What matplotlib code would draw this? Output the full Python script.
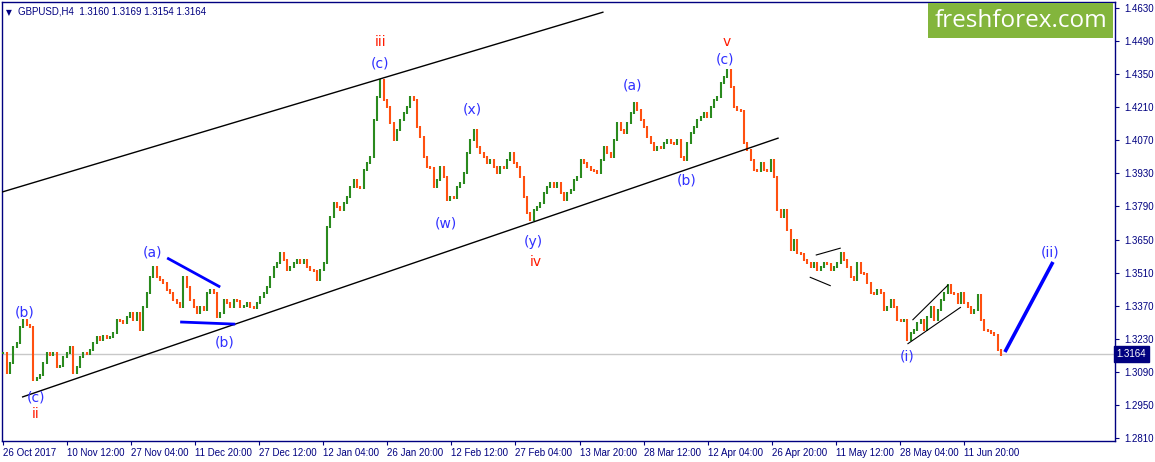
import numpy as np
import matplotlib.pyplot as plt

# GBPUSD H4 closes (one value per ~3.3 H4 bars)
closes = [
    1.3170, 1.3085, 1.3127, 1.3195, 1.3212, 1.3280, 1.3309, 1.3288, 1.3280, 1.3055,
    1.3064, 1.3077, 1.3127, 1.3170, 1.3161, 1.3170, 1.3110, 1.3114, 1.3153, 1.3170,
    1.3195, 1.3085, 1.3110, 1.3153, 1.3170, 1.3166, 1.3182, 1.3212, 1.3237, 1.3225,
    1.3241, 1.3232, 1.3237, 1.3254, 1.3309, 1.3305, 1.3297, 1.3322, 1.3339, 1.3309,
    1.3339, 1.3267, 1.3364, 1.3424, 1.3491, 1.3534, 1.3491, 1.3479, 1.3466, 1.3436,
    1.3424, 1.3394, 1.3381, 1.3364, 1.3491, 1.3449, 1.3394, 1.3364, 1.3339, 1.3364,
    # Dec - mid Jan
    1.3352, 1.3424, 1.3436, 1.3424, 1.3322, 1.3339, 1.3394, 1.3381, 1.3364, 1.3394,
    1.3390, 1.3364, 1.3368, 1.3381, 1.3364, 1.3360, 1.3381, 1.3407, 1.3424, 1.3449,
    1.3491, 1.3534, 1.3551, 1.3593, 1.3563, 1.3521, 1.3534, 1.3551, 1.3563, 1.3551,
    1.3563, 1.3534, 1.3521, 1.3517, 1.3479, 1.3521, 1.3551, 1.3703, 1.3745, 1.3805,
    1.3788, 1.3775, 1.3805, 1.3830, 1.3872, 1.3902, 1.3872, 1.3868, 1.3944, 1.3974,
    1.3999, 1.4156, 1.4253, 1.4325, 1.4241, 1.4211, 1.4143,
    # late Jan - mid Mar
    1.4071, 1.4114, 1.4156, 1.4186, 1.4211, 1.4253, 1.4241, 1.4126, 1.4084, 1.3999,
    1.3957, 1.3953, 1.3872, 1.3902, 1.3957, 1.3915, 1.3817, 1.3830, 1.3826, 1.3872,
    1.3889, 1.3932, 1.4016, 1.4071, 1.4114, 1.4042, 1.4016, 1.3999, 1.3974, 1.3987,
    1.3957, 1.3932, 1.3957, 1.3953, 1.3987, 1.4016, 1.3974, 1.3957, 1.3915, 1.3830,
    1.3762, 1.3733, 1.3775, 1.3788, 1.3805, 1.3847, 1.3872, 1.3889, 1.3872, 1.3889,
    1.3847, 1.3817, 1.3847, 1.3860, 1.3902, 1.3915, 1.3987,
    # mid Mar - late Apr
    1.3974, 1.3957, 1.3944, 1.3940, 1.3932, 1.3987, 1.4042, 1.4016, 1.3999, 1.4071,
    1.4143, 1.4114, 1.4101, 1.4143, 1.4186, 1.4228, 1.4198, 1.4156, 1.4126, 1.4084,
    1.4059, 1.4029, 1.4042, 1.4038, 1.4059, 1.4071, 1.4059, 1.4055, 1.4071, 1.3999,
    1.3987, 1.4059, 1.4101, 1.4126, 1.4156, 1.4169, 1.4186, 1.4169, 1.4211, 1.4241,
    1.4253, 1.4313, 1.4338, 1.4368, 1.4296, 1.4211, 1.4198, 1.4194, 1.4059, 1.4029,
    1.3987, 1.3944, 1.3940, 1.3974, 1.3944, 1.3940, 1.3987,
    # late Apr - early Jun
    1.3915, 1.3775, 1.3745, 1.3775, 1.3690, 1.3606, 1.3648, 1.3593, 1.3589, 1.3563,
    1.3551, 1.3534, 1.3551, 1.3521, 1.3534, 1.3551, 1.3547, 1.3521, 1.3534, 1.3551,
    1.3593, 1.3563, 1.3534, 1.3491, 1.3479, 1.3551, 1.3508, 1.3504, 1.3466, 1.3424,
    1.3420, 1.3436, 1.3424, 1.3352, 1.3364, 1.3394, 1.3364, 1.3309, 1.3305, 1.3309,
    1.3225, 1.3254, 1.3267, 1.3297, 1.3309, 1.3267, 1.3322, 1.3364, 1.3309, 1.3352,
    1.3394, 1.3424, 1.3458, 1.3424, 1.3420, 1.3381, 1.3424,
    # June
    1.3381, 1.3364, 1.3339, 1.3352, 1.3415, 1.3309, 1.3267, 1.3263, 1.3254, 1.3246,
    1.3182, 1.3164,
]

last_price = 1.3164
header = "GBPUSD,H4  1.3160 1.3169 1.3154 1.3164"

date_labels = ["26 Oct 2017", "10 Nov 12:00", "27 Nov 04:00", "11 Dec 20:00",
               "27 Dec 12:00", "12 Jan 04:00", "26 Jan 20:00", "12 Feb 12:00",
               "27 Feb 04:00", "13 Mar 20:00", "28 Mar 12:00", "12 Apr 04:00",
               "26 Apr 20:00", "11 May 12:00", "28 May 04:00", "11 Jun 20:00"]
price_ticks = [1.2810, 1.2950, 1.3090, 1.3230, 1.3370, 1.3510, 1.3650,
               1.3790, 1.3930, 1.4070, 1.4210, 1.4350, 1.4490, 1.4630]

# trend lines: (bar, price) pairs
channel_upper = [(-0.4, 1.3851), (179.9, 1.4613)]
channel_lower = [(5.6, 1.2983), (232.4, 1.4080)]
tri_upper = [(49.1, 1.3572), (65.0, 1.3449)]
tri_lower = [(53.0, 1.3301), (69.5, 1.3292)]
flag1_upper = [(243.5, 1.3584), (251.0, 1.3614)]
flag1_lower = [(241.7, 1.3491), (248.0, 1.3454)]
flag2_upper = [(272.5, 1.3309), (283.2, 1.3458)]
flag2_lower = [(271.0, 1.3208), (287.0, 1.3364)]
proj_ii = [(300.2, 1.3174), (314.6, 1.3555)]

# wave labels: (text, bar, price, colour)
blue = "#3030ff"
red = "#ff1a00"
wave_labels = [
    ("(b)", 6.5, 1.3343, blue), ("(c)", 9.8, 1.2983, blue), ("ii", 9.8, 1.2911, red),
    ("(a)", 44.6, 1.3597, blue), ("(b)", 66.2, 1.3216, blue),
    ("iii", 113.0, 1.4486, red), ("(c)", 113.0, 1.4397, blue),
    ("(w)", 132.5, 1.3720, blue), ("(x)", 140.6, 1.4202, blue),
    ("(y)", 158.9, 1.3640, blue), ("iv", 159.5, 1.3555, red),
    ("(a)", 188.6, 1.4302, blue), ("(b)", 204.8, 1.3898, blue),
    ("v", 216.8, 1.4486, red), ("(c)", 216.3, 1.4414, blue),
    ("(i)", 270.8, 1.3157, blue), ("(ii)", 313.7, 1.3597, blue),
]

navy = "#000080"
up_col = "#2a8a1e"
down_col = "#ff5010"
small_font = "Liberation Sans"

fig = plt.figure(figsize=(11.55, 4.62), dpi=100)
ax = fig.add_axes([2 / 1155, 21 / 462, 1113 / 1155, 439 / 462])

c = np.array(closes)
x = np.arange(len(c))
o = np.r_[c[0], c[:-1]]
lo = np.minimum(o, c) - 0.0005
hi = np.maximum(o, c) + 0.0005
cols = [up_col if cc >= oo else down_col for oo, cc in zip(o, c)]

ax.axhline(last_price, color="#c8c8c8", lw=1, zorder=1)
ax.vlines(x, lo, hi, colors=cols, lw=1.5, zorder=3)

for pts, col, lw in [(channel_upper, "black", 1), (channel_lower, "black", 1),
                     (tri_upper, "#0000ff", 2), (tri_lower, "#0000ff", 2),
                     (flag1_upper, "black", 0.8), (flag1_lower, "black", 0.8),
                     (flag2_upper, "black", 0.8), (flag2_lower, "black", 0.8),
                     (proj_ii, "#0000ff", 2.6)]:
    xs, ys = zip(*pts)
    ax.plot(xs, ys, color=col, lw=lw, zorder=4, solid_capstyle="butt")

for txt, bx, py, col in wave_labels:
    ax.text(bx, py, txt, color=col, fontsize=10, ha="center", va="center", zorder=5)

ax.set_xlim(-0.4, 333.2)
ax.set_ylim(1.27973, 1.46554)

# date axis: one label every 64 H4 bars, 3.33 bars per point
tick_pos = [(3 + 64 * k) * 0.3 - 1 for k in range(len(date_labels))]
ax.set_xticks(tick_pos)
ax.set_xticklabels(date_labels, family=small_font)
for lab in ax.get_xticklabels():
    lab.set_ha("left")

ax.yaxis.tick_right()
ax.set_yticks(price_ticks)
ax.set_yticklabels([f"{p:.4f}" for p in price_ticks], family=small_font)
ax.tick_params(axis="both", colors=navy, labelsize=7, length=3, width=0.8,
               labelcolor=navy)
ax.tick_params(axis="x", pad=2)
ax.tick_params(axis="y", pad=4)
for s in ax.spines.values():
    s.set_color(navy)
    s.set_linewidth(1)

# header
ax.text(0.004, 0.986, "\u25bc", transform=ax.transAxes, color=navy, fontsize=5.5,
        va="top", ha="left")
ax.text(0.014, 0.989, header, transform=ax.transAxes, color=navy, fontsize=7,
        family=small_font, va="top", ha="left")

# watermark
ax.add_patch(plt.Rectangle((928 / 1155, 424 / 462), 185 / 1155, 35 / 462,
                           transform=fig.transFigure, facecolor="#83b53c",
                           edgecolor="none", zorder=6))
fig.text(1021 / 1155, 441 / 462, "freshforex.com", color="white", fontsize=17.5,
         family="Open Sans", ha="center", va="center", zorder=7)

# current price tag
ax.text(1.0015, last_price, f"{last_price:.4f}", transform=ax.get_yaxis_transform(),
        color="white", fontsize=7, family=small_font, va="center", ha="left",
        bbox=dict(boxstyle="square,pad=0.3", facecolor=navy, edgecolor=navy))

fig.savefig("out.png", dpi=100)
